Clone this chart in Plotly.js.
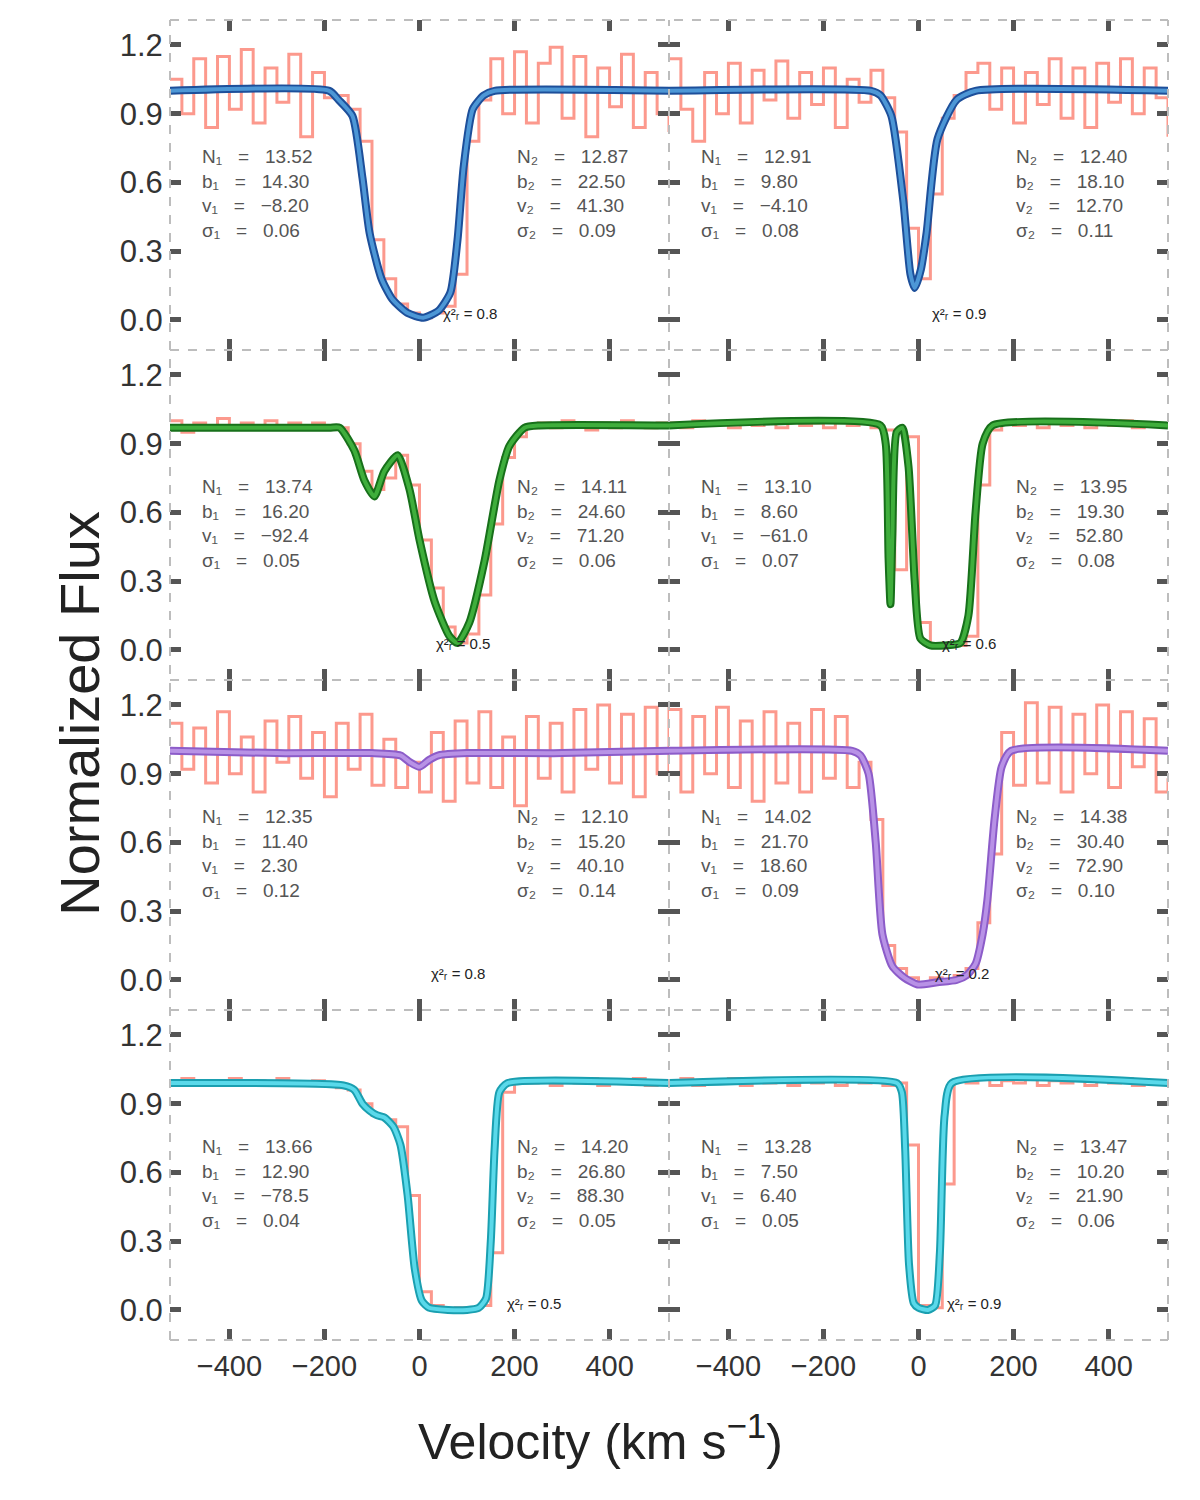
<!DOCTYPE html>
<html>
<head>
<meta charset="utf-8">
<script src="https://cdn.plot.ly/plotly-3.0.1.min.js"></script>
<style>body{margin:0;background:#fff;}</style>
</head>
<body>
<div id="spec_plot" style="width:1200px;height:1500px;"></div>
<script>
// velocity grid of the observed spectra (km/s)
var velGrid = [-525, -500, -475, -450, -425, -400, -375, -350, -325, -300, -275, -250, -225, -200, -175, -150, -125, -100, -75, -50, -25, 0,
  25, 50, 75, 100, 125, 150, 175, 200, 225, 250, 275, 300, 325, 350, 375, 400, 425, 450, 475, 500, 525];

// observed normalized flux, one array per panel (row, L/R)
var obs1L = [1.05, 0.90, 1.14, 0.84, 1.15, 0.92, 1.18, 0.86, 1.10, 0.95, 1.16, 0.80, 1.08, 0.97, 0.98, 0.92, 0.78, 0.35, 0.18, 0.07, 0.03, 0.01,
  0.03, 0.06, 0.20, 0.78, 0.96, 1.14, 0.90, 1.17, 0.86, 1.12, 1.19, 0.88, 1.15, 0.80, 1.10, 0.93, 1.16, 0.84, 1.08, 0.90, 0.82];
var obs1R = [1.14, 0.92, 0.78, 1.08, 0.90, 1.12, 0.86, 1.09, 0.96, 1.13, 0.88, 1.08, 0.94, 1.10, 0.84, 1.05, 0.95, 1.09, 0.97, 0.82, 0.40, 0.18,
  0.55, 0.88, 0.98, 1.08, 1.12, 0.92, 1.10, 0.86, 1.08, 0.94, 1.14, 0.88, 1.10, 0.84, 1.12, 0.95, 1.14, 0.90, 1.10, 0.97, 0.80];
var obs2L = [1.00, 0.95, 0.99, 0.97, 1.01, 0.98, 0.99, 0.97, 1.00, 0.98, 0.99, 0.97, 0.99, 0.98, 0.97, 0.90, 0.78, 0.70, 0.75, 0.85, 0.72, 0.48,
  0.27, 0.10, 0.03, 0.07, 0.24, 0.55, 0.84, 0.93, 0.97, 0.99, 0.97, 1.00, 0.98, 0.96, 0.99, 0.97, 1.00, 0.98, 0.97, 0.99, 0.98];
var obs2R = [0.99, 0.97, 1.00, 0.98, 0.99, 0.97, 1.00, 0.98, 0.99, 0.97, 1.00, 0.98, 0.99, 0.97, 1.00, 0.98, 0.99, 0.97, 0.96, 0.35, 0.93, 0.12,
  0.02, 0.02, 0.02, 0.06, 0.72, 0.96, 0.99, 0.98, 1.00, 0.97, 0.99, 0.98, 1.00, 0.97, 0.99, 0.98, 1.00, 0.97, 0.99, 0.98, 0.99];
var obs3L = [1.12, 0.92, 1.10, 0.86, 1.17, 0.90, 1.06, 0.82, 1.13, 0.95, 1.15, 0.88, 1.08, 0.80, 1.12, 0.92, 1.16, 0.85, 1.05, 0.84, 0.95, 0.82,
  1.08, 0.78, 1.13, 0.86, 1.17, 0.84, 1.06, 0.76, 1.15, 0.88, 1.12, 0.82, 1.18, 0.92, 1.20, 0.86, 1.16, 0.80, 1.19, 0.90, 1.20];
var obs3R = [1.18, 0.82, 1.15, 0.90, 1.19, 0.84, 1.13, 0.78, 1.17, 0.86, 1.12, 0.82, 1.18, 0.88, 1.15, 0.84, 0.95, 0.70, 0.15, 0.05, 0.01, -0.02,
  0.01, 0.00, 0.02, 0.05, 0.25, 0.55, 1.08, 0.85, 1.21, 0.86, 1.19, 0.82, 1.16, 0.90, 1.20, 0.84, 1.17, 0.93, 1.14, 0.82, 0.88];
var obs4L = [0.99, 1.01, 0.98, 1.00, 0.99, 1.01, 0.98, 1.00, 0.99, 1.01, 0.99, 0.98, 1.00, 0.99, 0.97, 0.96, 0.90, 0.85, 0.83, 0.80, 0.50, 0.08,
  0.02, 0.00, 0.01, 0.00, 0.02, 0.25, 0.95, 1.00, 0.99, 1.01, 0.98, 1.00, 0.99, 1.01, 0.98, 1.00, 0.99, 1.01, 0.98, 1.00, 0.99];
var obs4R = [0.99, 1.01, 0.98, 1.00, 0.99, 1.01, 0.98, 1.00, 0.99, 1.01, 0.98, 1.00, 0.99, 1.01, 0.98, 1.00, 0.99, 1.01, 0.98, 0.99, 0.72, 0.02,
  0.01, 0.55, 1.00, 0.99, 1.01, 0.98, 1.00, 0.99, 1.01, 0.98, 1.00, 0.99, 1.01, 0.98, 1.00, 0.99, 1.01, 0.98, 1.00, 0.99, 1.00];

// fitted model profiles (velocity, flux)
var mod1Lv = [-525, -190, -170, -141, -120, -105, -80, -57, -25, 8, 40, 65, 80, 93, 112, 135, 158, 525];
var mod1Lf = [1.0, 1.0, 0.96, 0.89, 0.62, 0.38, 0.18, 0.09, 0.03, 0.01, 0.04, 0.12, 0.35, 0.67, 0.92, 0.98, 1.0, 1.0];
var mod1Rv = [-525, -100, -80, -57, -32, -17, -8, 5, 17, 40, 80, 120, 525];
var mod1Rf = [1.0, 1.0, 0.98, 0.89, 0.52, 0.2, 0.14, 0.22, 0.38, 0.79, 0.96, 1.0, 1.0];
var mod2Lv = [-525, -190, -168, -137, -116, -95, -74, -46, -21, 0, 32, 63, 80, 105, 137, 168, 189, 221, 253, 525];
var mod2Lf = [0.97, 0.97, 0.97, 0.87, 0.74, 0.67, 0.78, 0.85, 0.70, 0.48, 0.21, 0.06, 0.03, 0.12, 0.39, 0.74, 0.89, 0.97, 0.98, 0.98];
var mod2Rv = [-525, -80, -69, -63, -59, -55, -46, -34, -21, -8, 4, 25, 57, 88, 105, 120, 135, 156, 525];
var mod2Rf = [0.98, 0.98, 0.9, 0.4, 0.2, 0.5, 0.95, 0.97, 0.8, 0.3, 0.05, 0.02, 0.02, 0.03, 0.15, 0.6, 0.9, 0.98, 0.98];
var mod3Lv = [-525, -300, -100, -40, -20, 0, 20, 40, 100, 300, 525];
var mod3Lf = [1.0, 0.99, 0.99, 0.98, 0.95, 0.93, 0.96, 0.98, 0.99, 0.99, 1.0];
var mod3Rv = [-525, -140, -122, -105, -90, -76, -55, -30, -2, 40, 80, 101, 120, 135, 145, 160, 175, 195, 525];
var mod3Rf = [1.0, 1.0, 0.98, 0.9, 0.6, 0.2, 0.06, 0.01, -0.02, -0.01, 0.0, 0.02, 0.07, 0.2, 0.35, 0.7, 0.93, 1.0, 1.0];
var mod4Lv = [-525, -160, -137, -120, -105, -90, -74, -55, -40, -25, -10, 5, 20, 60, 100, 125, 140, 150, 158, 168, 185, 525];
var mod4Lf = [0.99, 0.98, 0.96, 0.90, 0.87, 0.85, 0.84, 0.80, 0.72, 0.50, 0.18, 0.04, 0.01, 0.0, 0.0, 0.01, 0.05, 0.3, 0.7, 0.95, 0.99, 0.99];
var mod4Rv = [-525, -45, -35, -28, -20, -10, 0, 20, 35, 45, 55, 70, 525];
var mod4Rf = [0.99, 0.99, 0.95, 0.7, 0.2, 0.03, 0.01, 0.0, 0.02, 0.25, 0.85, 0.99, 0.99];

// inset text blocks and fit labels
var insetLeft = [
  'N₁  =  13.52<br>b₁  =  14.30<br>v₁  =  −8.20<br>σ₁  =  0.06',
  'N₁  =  12.91<br>b₁  =  9.80<br>v₁  =  −4.10<br>σ₁  =  0.08',
  'N₁  =  13.74<br>b₁  =  16.20<br>v₁  =  −92.4<br>σ₁  =  0.05',
  'N₁  =  13.10<br>b₁  =  8.60<br>v₁  =  −61.0<br>σ₁  =  0.07',
  'N₁  =  12.35<br>b₁  =  11.40<br>v₁  =  2.30<br>σ₁  =  0.12',
  'N₁  =  14.02<br>b₁  =  21.70<br>v₁  =  18.60<br>σ₁  =  0.09',
  'N₁  =  13.66<br>b₁  =  12.90<br>v₁  =  −78.5<br>σ₁  =  0.04',
  'N₁  =  13.28<br>b₁  =  7.50<br>v₁  =  6.40<br>σ₁  =  0.05'
];
var insetRight = [
  'N₂  =  12.87<br>b₂  =  22.50<br>v₂  =  41.30<br>σ₂  =  0.09',
  'N₂  =  12.40<br>b₂  =  18.10<br>v₂  =  12.70<br>σ₂  =  0.11',
  'N₂  =  14.11<br>b₂  =  24.60<br>v₂  =  71.20<br>σ₂  =  0.06',
  'N₂  =  13.95<br>b₂  =  19.30<br>v₂  =  52.80<br>σ₂  =  0.08',
  'N₂  =  12.10<br>b₂  =  15.20<br>v₂  =  40.10<br>σ₂  =  0.14',
  'N₂  =  14.38<br>b₂  =  30.40<br>v₂  =  72.90<br>σ₂  =  0.10',
  'N₂  =  14.20<br>b₂  =  26.80<br>v₂  =  88.30<br>σ₂  =  0.05',
  'N₂  =  13.47<br>b₂  =  10.20<br>v₂  =  21.90<br>σ₂  =  0.06'
];
var fitLabels = ['χ²ᵣ = 0.8', 'χ²ᵣ = 0.9', 'χ²ᵣ = 0.5', 'χ²ᵣ = 0.6', 'χ²ᵣ = 0.8', 'χ²ᵣ = 0.2', 'χ²ᵣ = 0.5', 'χ²ᵣ = 0.9'];
var fitLabelX = [45, 25, 30, 45, 20, 30, 180, 55];

var yTicks = [0, 0.3, 0.6, 0.9, 1.2];
var yTickText = ['0.0', '0.3', '0.6', '0.9', '1.2'];
var xTicks = [-400, -200, 0, 200, 400];
var xTickText = ['−400', '−200', '0', '200', '400'];

var panels = [
  {obs: obs1L, mv: mod1Lv, mf: mod1Lf, dark: '#1d4f9a', light: '#4d97d6'},
  {obs: obs1R, mv: mod1Rv, mf: mod1Rf, dark: '#1d4f9a', light: '#4d97d6'},
  {obs: obs2L, mv: mod2Lv, mf: mod2Lf, dark: '#17701a', light: '#3fae3c'},
  {obs: obs2R, mv: mod2Rv, mf: mod2Rf, dark: '#17701a', light: '#3fae3c'},
  {obs: obs3L, mv: mod3Lv, mf: mod3Lf, dark: '#8c5cc9', light: '#b892e6'},
  {obs: obs3R, mv: mod3Rv, mf: mod3Rf, dark: '#8c5cc9', light: '#b892e6'},
  {obs: obs4L, mv: mod4Lv, mf: mod4Lf, dark: '#1a9fb0', light: '#5ad9ea'},
  {obs: obs4R, mv: mod4Rv, mf: mod4Rf, dark: '#1a9fb0', light: '#5ad9ea'}
];

function spaced(t) { return t.replace(/  /g, '\u00a0\u00a0\u00a0'); }

var data = [];
var layout = {
  width: 1200,
  height: 1500,
  margin: {l: 170, r: 32, t: 20, b: 160},
  paper_bgcolor: '#fff',
  plot_bgcolor: 'rgba(0,0,0,0)',
  showlegend: false,
  font: {family: 'Liberation Sans, Arial, sans-serif', color: '#333'},
  shapes: [],
  annotations: []
};

panels.forEach(function (p, i) {
  var s = i === 0 ? '' : String(i + 1);
  var row = Math.floor(i / 2), col = i % 2;
  data.push({x: velGrid, y: p.obs, xaxis: 'x' + s, yaxis: 'y' + s, type: 'scatter', mode: 'lines',
    line: {color: 'rgba(250,85,65,0.6)', width: 3, shape: 'hv'}});
  data.push({x: p.mv, y: p.mf, xaxis: 'x' + s, yaxis: 'y' + s, type: 'scatter', mode: 'lines',
    line: {color: p.dark, width: 8, shape: 'spline', smoothing: 0.6}});
  data.push({x: p.mv, y: p.mf, xaxis: 'x' + s, yaxis: 'y' + s, type: 'scatter', mode: 'lines',
    line: {color: p.light, width: 4, shape: 'spline', smoothing: 0.6}});

  layout['xaxis' + s] = {
    domain: [col * 0.5, col * 0.5 + 0.5], anchor: 'y' + s, range: [-525, 525],
    tickvals: xTicks, ticktext: xTickText, showticklabels: row === 3,
    ticks: 'inside', ticklen: 11, tickwidth: 5, tickcolor: '#555', mirror: 'allticks',
    showline: true, linecolor: 'rgba(0,0,0,0)', showgrid: false, zeroline: false,
    tickfont: {size: 29, color: '#333'}
  };
  layout['yaxis' + s] = {
    domain: [0.75 - row * 0.25, 1 - row * 0.25], anchor: 'x' + s, range: [-0.131, 1.309],
    tickvals: yTicks, ticktext: yTickText, showticklabels: col === 0,
    ticks: 'inside', ticklen: 11, tickwidth: 5, tickcolor: '#555', mirror: 'allticks',
    showline: true, linecolor: 'rgba(0,0,0,0)', showgrid: false, zeroline: false,
    tickfont: {size: 31, color: '#333'}
  };

  layout.annotations.push({xref: 'x' + s, yref: 'y' + s, x: -462, y: 0.77, xanchor: 'left', yanchor: 'top',
    text: spaced(insetLeft[i]), showarrow: false, align: 'left', font: {size: 19, color: '#555'}});
  layout.annotations.push({xref: 'x' + s, yref: 'y' + s, x: 200, y: 0.77, xanchor: 'left', yanchor: 'top',
    text: spaced(insetRight[i]), showarrow: false, align: 'left', font: {size: 19, color: '#555'}});
  layout.annotations.push({xref: 'x' + s, yref: 'y' + s, x: fitLabelX[i], y: 0.03, xanchor: 'left', yanchor: 'middle',
    text: fitLabels[i], showarrow: false, font: {size: 15, color: '#222'}});
});

// dashed panel frames
[0, 0.25, 0.5, 0.75, 1].forEach(function (yy) {
  layout.shapes.push({type: 'line', xref: 'paper', yref: 'paper', x0: 0, x1: 1, y0: yy, y1: yy,
    line: {color: '#bdbdbd', width: 2, dash: 'dash'}});
});
[0, 0.5, 1].forEach(function (xx) {
  layout.shapes.push({type: 'line', xref: 'paper', yref: 'paper', x0: xx, x1: xx, y0: 0, y1: 1,
    line: {color: '#bdbdbd', width: 2, dash: 'dash'}});
});

layout.annotations.push({xref: 'paper', yref: 'paper', x: -0.125, y: 0.475, textangle: -90,
  text: 'Normalized Flux', showarrow: false, font: {size: 56, color: '#222'}});
layout.annotations.push({xref: 'paper', yref: 'paper', x: 0.431, y: -0.074, yanchor: 'middle',
  text: 'Velocity (km s<sup>−1</sup>)', showarrow: false, font: {size: 50, color: '#222'}});

Plotly.newPlot('spec_plot', data, layout, {displayModeBar: false, staticPlot: true});
</script>
</body>
</html>
